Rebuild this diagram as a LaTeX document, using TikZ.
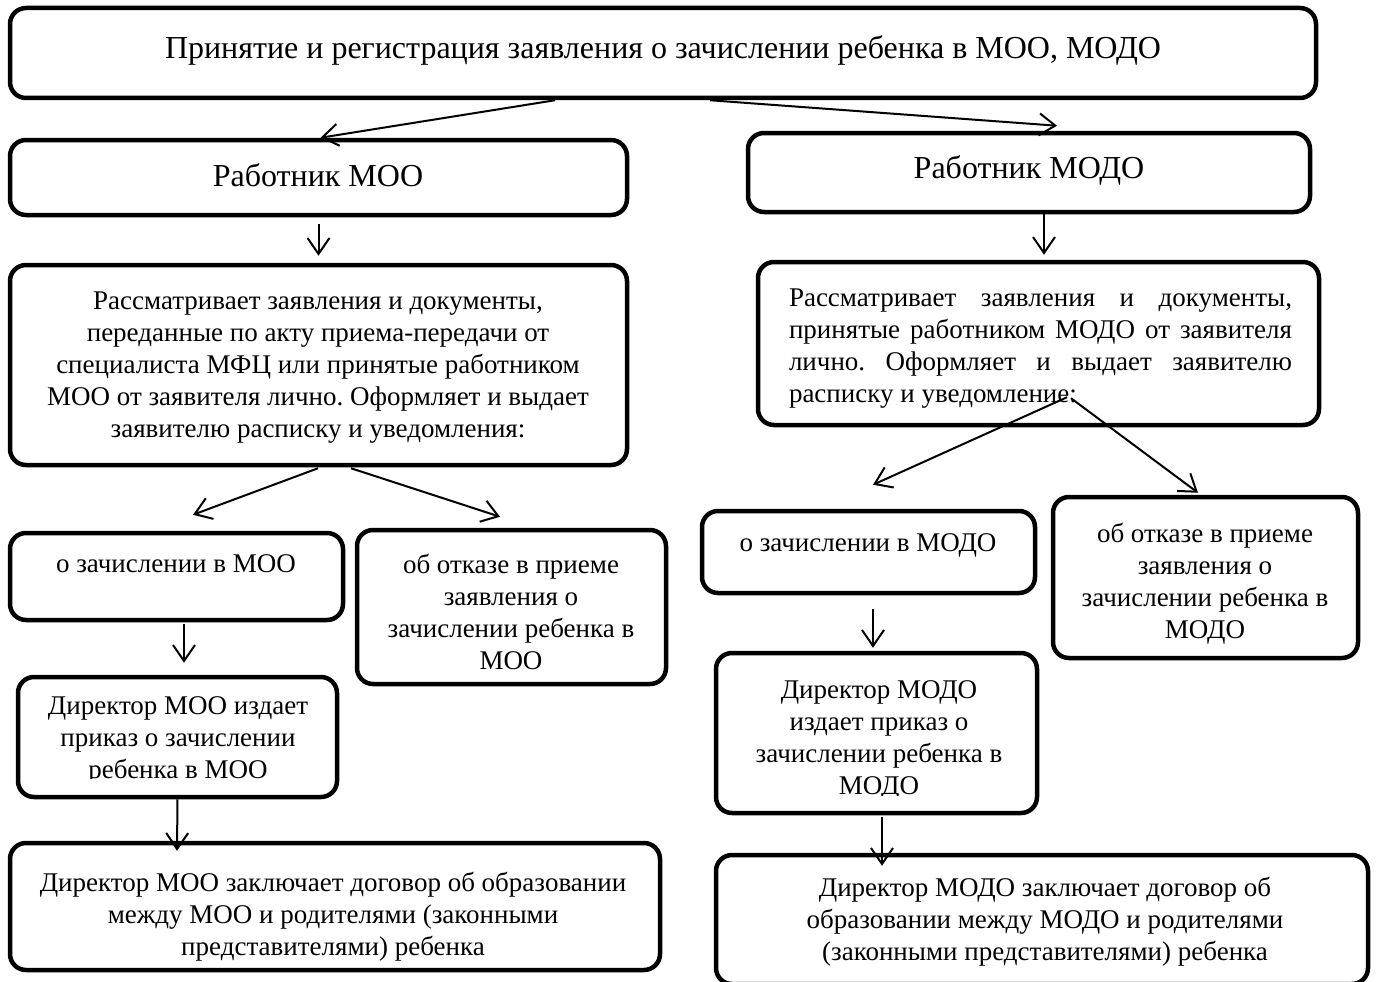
\documentclass[tikz,border=0pt]{standalone}
\usepackage{fontspec}
\setmainfont{Liberation Serif}
\usetikzlibrary{arrows.meta}
\begin{document}
\frenchspacing
\begin{tikzpicture}[x=1pt,y=-1pt,
  box/.style={draw, line width=4.5pt, rounded corners=16pt, inner sep=0pt},
  txt/.style={inner sep=0pt, anchor=north, align=center, font=\fontsize{27}{32}\selectfont},
  bigtxt/.style={inner sep=0pt, anchor=north, align=center, font=\fontsize{32}{37}\selectfont},
  arr/.style={line width=2pt, -{Straight Barb[length=16pt,width=22pt,line width=2pt]}}]
\useasboundingbox (0,0) rectangle (1377,982);
% boxes
\node[box, minimum width=1306pt, minimum height=90pt] (top) at (663,53) {};
\node[box, minimum width=617pt, minimum height=75pt] (rmoo) at (318.5,177.5) {};
\node[box, minimum width=562pt, minimum height=79pt] (rmodo) at (1029,172.5) {};
\node[box, minimum width=617pt, minimum height=200pt] (lbig) at (318.5,365) {};
\node[box, minimum width=561pt, minimum height=163pt] (rbig) at (1038.5,343.5) {};
\node[box, minimum width=333pt, minimum height=87pt] (zmoo) at (176.5,576.5) {};
\node[box, minimum width=309pt, minimum height=154pt] (omoo) at (511.5,607) {};
\node[box, minimum width=319pt, minimum height=120pt] (dmoo) at (177.5,737) {};
\node[box, minimum width=650pt, minimum height=127pt] (kmoo) at (335,906.5) {};
\node[box, minimum width=333pt, minimum height=82pt] (zmodo) at (868.5,552) {};
\node[box, minimum width=305pt, minimum height=161pt] (omodo) at (1205.5,577.5) {};
\node[box, minimum width=321pt, minimum height=160pt] (dmodo) at (876.5,733) {};
\node[box, minimum width=652pt, minimum height=129pt] (kmodo) at (1042,919.5) {};
% texts
\node[bigtxt] (toptext) at (663,35) {Принятие и регистрация заявления о зачислении ребенка в МОО, МОДО};
\node[bigtxt] (rmootext) at (318,163) {Работник МОО};
\node[bigtxt] (rmodotext) at (1029,155) {Работник МОДО};
\node[txt] (lbigtext) at (318,292) {Рассматривает заявления и документы,\\переданные по акту приема-передачи от\\специалиста МФЦ или принятые работником\\МОО от заявителя лично. Оформляет и выдает\\заявителю расписку и уведомления:};
\node[txt, align=left] (rbigtext) at (1040.5,289) {\makebox[503pt][s]{Рассматривает заявления и документы,}\\\makebox[503pt][s]{принятые работником МОДО от заявителя}\\\makebox[503pt][s]{лично. Оформляет и выдает заявителю}\\\makebox[503pt][l]{расписку и уведомление:}};
\node[txt] (zmootext) at (176,554) {о зачислении в МОО};
\node[txt] (omootext) at (511,554) {об отказе в приеме\\заявления о\\зачислении ребенка в\\МОО};
\begin{scope}
\clip (22,680) rectangle (334,778);
\node[txt] (dmootext) at (178,696) {Директор МОО издает\\приказ о зачислении\\ребенка в МОО};
\end{scope}
\node[txt] (kmootext) at (333,872) {Директор МОО заключает договор об образовании\\между МОО и родителями (законными\\представителями) ребенка};
\node[txt] (zmodotext) at (868,533) {о зачислении в МОДО};
\node[txt] (omodotext) at (1205,523) {об отказе в приеме\\заявления о\\зачислении ребенка в\\МОДО};
\begin{scope}
\clip (719,656) rectangle (1035,795);
\node[txt] (dmodotext) at (879,680) {Директор МОДО\\издает приказ о\\зачислении ребенка в\\МОДО};
\end{scope}
\node[txt] (kmodotext) at (1045,877) {Директор МОДО заключает договор об\\образовании между МОДО и родителями\\(законными представителями) ребенка};
% arrows
\draw[arr] ([xshift=-108pt]top.south) -- ([xshift=2pt]rmoo.north);
\draw[arr] ([xshift=47pt]top.south) -- ([xshift=28pt,yshift=5pt]rmodo.north);
\draw[arr] ([yshift=-7pt]rmoo.south) -- ([yshift=7pt]lbig.north);
\draw[arr] ([xshift=15pt,yshift=4pt]rmodo.south) -- ([xshift=5.5pt,yshift=5pt]rbig.north);
\draw[arr] ([xshift=-0.5pt,yshift=-1pt]lbig.south) -- ([xshift=16.5pt,yshift=16pt]zmoo.north);
\draw[arr] ([xshift=32.5pt,yshift=-1pt]lbig.south) -- ([xshift=-11.5pt,yshift=11pt]omoo.north);
\draw[arr] ([xshift=7.5pt,yshift=-2pt]zmoo.south) -- ([xshift=6.5pt,yshift=12pt]dmoo.north);
\draw[arr] (dmoo.south) -- ([xshift=-158pt,yshift=-10pt]kmoo.north);
\draw[arr] ([xshift=28.5pt,yshift=30pt]rbig.south) -- ([xshift=4.5pt,yshift=24pt]zmodo.north);
\draw[arr] ([xshift=32.5pt,yshift=29pt]rbig.south) -- ([xshift=-7.5pt,yshift=2pt]omodo.north);
\draw[arr] ([xshift=4.5pt,yshift=-14pt]zmodo.south) -- ([xshift=-3.5pt,yshift=3pt]dmodo.north);
\draw[arr] ([xshift=5.5pt,yshift=-2pt]dmodo.south) -- ([xshift=-160pt,yshift=-13pt]kmodo.north);
\end{tikzpicture}
\end{document}
